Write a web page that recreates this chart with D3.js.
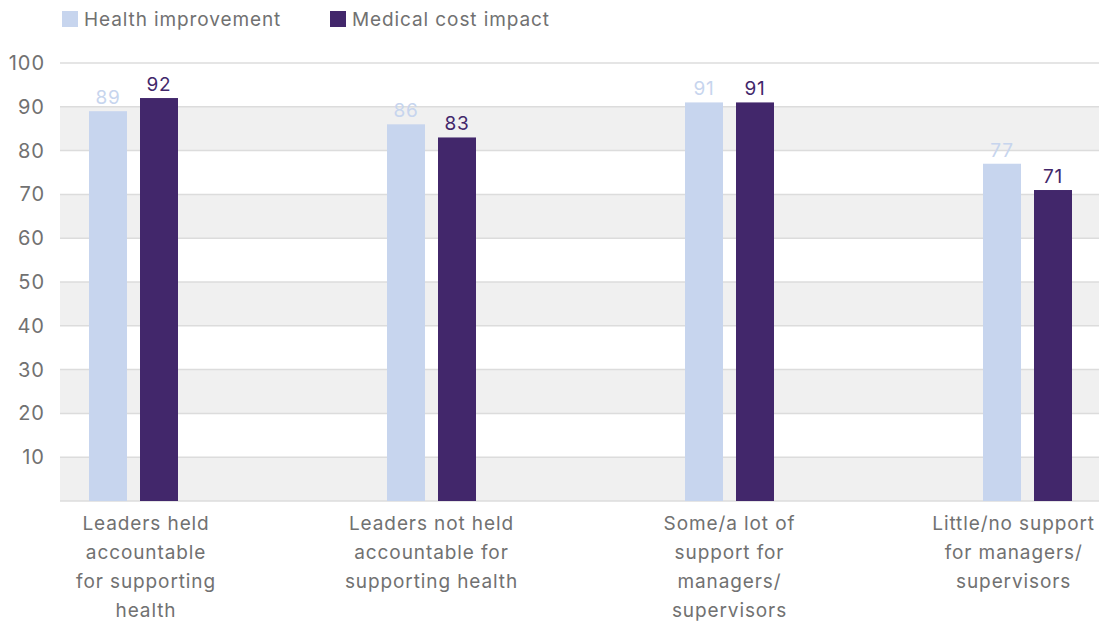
<!DOCTYPE html>
<html>
<head>
<meta charset="utf-8">
<script src="https://cdn.jsdelivr.net/npm/d3@7"></script>
<style>
  html, body { margin: 0; padding: 0; background: #fff; }
  svg { display: block; font-family: Inter, "Noto Sans", sans-serif; }
</style>
</head>
<body>
<svg id="chart"></svg>
<script>
const categories = [
    ["Leaders held", "accountable", "for supporting", "health"],
    ["Leaders not held", "accountable for", "supporting health"],
    ["Some/a lot of", "support for", "managers/", "supervisors"],
    ["Little/no support", "for managers/", "supervisors"]
];
const series = ["Health improvement", "Medical cost impact"];
const healthValues = [89, 86, 91, 77];
const costValues = [92, 83, 91, 71];
const yTicks = [10, 20, 30, 40, 50, 60, 70, 80, 90, 100];

const width = 1099, height = 624;
const colors = { "Health improvement": "#c7d5ee", "Medical cost impact": "#42276b" };
const textGray = "#717171";

const svg = d3.select("#chart")
    .attr("width", width)
    .attr("height", height);

const plotLeft = 60, plotTop = 63, plotBottom = 501;
const groupStep = 298;

const x0 = d3.scaleBand()
    .domain(d3.range(categories.length))
    .range([plotLeft, plotLeft + groupStep * categories.length]);

const x1 = d3.scaleBand()
    .domain(series)
    .range([29, 118])
    .paddingInner(13 / 51);

const y = d3.scaleLinear().domain([0, 100]).range([plotBottom, plotTop]);

// alternating bands
const bandStarts = [0, 20, 40, 60, 80];
svg.append("g").selectAll("rect")
    .data(bandStarts)
    .join("rect")
    .attr("x", plotLeft)
    .attr("width", width - plotLeft)
    .attr("y", d => y(d + 10))
    .attr("height", d => y(d) - y(d + 10))
    .attr("fill", "#f0f0f0");

// gridlines
svg.append("g").selectAll("line")
    .data([0].concat(yTicks))
    .join("line")
    .attr("x1", plotLeft)
    .attr("x2", width)
    .attr("y1", d => y(d))
    .attr("y2", d => y(d))
    .attr("stroke", "#dcdcdc")
    .attr("stroke-width", 1.5);

// y axis labels
const yAxis = svg.append("g")
    .attr("transform", `translate(${plotLeft},0)`)
    .call(d3.axisLeft(y).tickValues(yTicks).tickSize(0).tickPadding(15));
yAxis.select(".domain").remove();
yAxis.selectAll("text")
    .attr("fill", textGray)
    .style("font-size", "20px")
    .style("letter-spacing", "1px")
    .style("font-family", "Inter, sans-serif");

// bars
const rows = categories.map((c, i) => ({
    i,
    values: [
        { key: series[0], value: healthValues[i] },
        { key: series[1], value: costValues[i] }
    ]
}));

const groups = svg.append("g").selectAll("g")
    .data(rows)
    .join("g")
    .attr("transform", d => `translate(${x0(d.i)},0)`);

groups.selectAll("rect")
    .data(d => d.values)
    .join("rect")
    .attr("x", d => x1(d.key))
    .attr("width", x1.bandwidth())
    .attr("y", d => y(d.value))
    .attr("height", d => y(0) - y(d.value))
    .attr("fill", d => colors[d.key]);

groups.selectAll("text.val")
    .data(d => d.values)
    .join("text")
    .attr("class", "val")
    .attr("x", d => x1(d.key) + x1.bandwidth() / 2)
    .attr("y", d => y(d.value) - 7)
    .attr("text-anchor", "middle")
    .attr("fill", d => colors[d.key])
    .style("font-size", "19px")
    .style("letter-spacing", "0.8px")
    .text(d => d.value);

// category labels, centred under the pair and kept inside the frame
const labels = svg.append("g");
rows.forEach(r => {
    const center = x0(r.i) + (x1.range()[0] + x1.range()[1]) / 2;
    const t = labels.append("text")
        .attr("text-anchor", "middle")
        .attr("fill", textGray)
        .style("font-size", "19px")
        .style("letter-spacing", "0.9px");
    categories[r.i].forEach((line, k) => {
        t.append("tspan")
            .attr("x", center)
            .attr("y", 530 + k * 29)
            .text(line);
    });
    const bb = t.node().getBBox();
    let shift = 0;
    if (bb.x < 76) shift = 76 - bb.x;
    if (bb.x + bb.width > 1095) shift = 1095 - (bb.x + bb.width);
    t.selectAll("tspan").attr("x", center + shift);
});

// legend
const legend = svg.append("g").attr("transform", "translate(62,11)");
const legendX = [0, 268];
series.forEach((s, i) => {
    const g = legend.append("g").attr("transform", `translate(${legendX[i]},0)`);
    g.append("rect").attr("width", 16).attr("height", 16).attr("fill", colors[s]);
    g.append("text")
        .attr("x", 22)
        .attr("y", 15)
        .attr("fill", textGray)
        .style("font-size", "19px")
        .style("letter-spacing", "0.9px")
        .text(s);
});
</script>
</body>
</html>
